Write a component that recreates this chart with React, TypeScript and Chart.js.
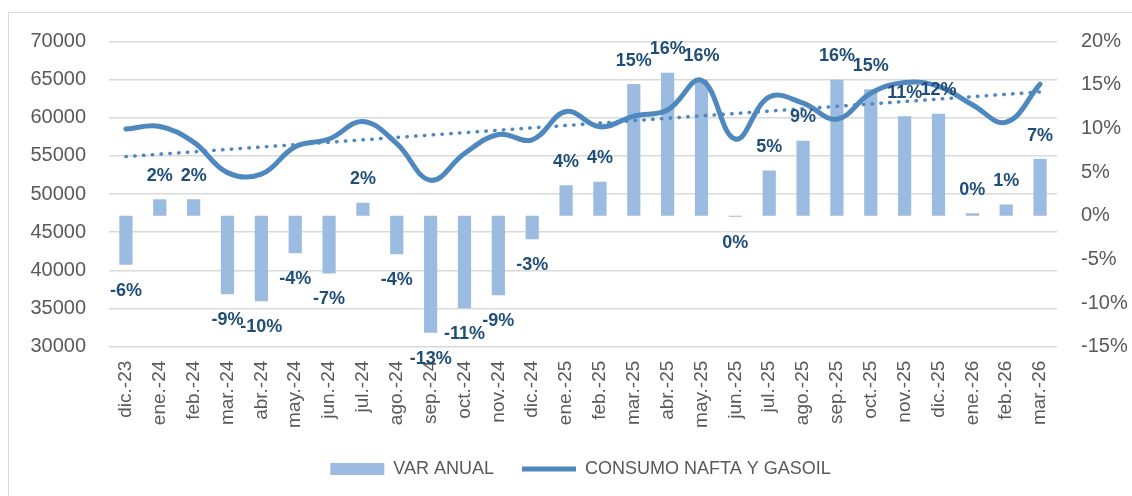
import React, { useEffect, useRef } from "react";
import { Chart, registerables } from "chart.js";

Chart.register(...registerables);

const categories = [
  "dic.-23", "ene.-24", "feb.-24", "mar.-24", "abr.-24", "may.-24", "jun.-24",
  "jul.-24", "ago.-24", "sep.-24", "oct.-24", "nov.-24", "dic.-24", "ene.-25",
  "feb.-25", "mar.-25", "abr.-25", "may.-25", "jun.-25", "jul.-25", "ago.-25",
  "sep.-25", "oct.-25", "nov.-25", "dic.-25", "ene.-26", "feb.-26", "mar.-26",
];

// VAR ANUAL (%), right axis
const varAnual = [
  -5.6, 1.9, 1.9, -9.0, -9.8, -4.3, -6.6, 1.5, -4.4, -13.4, -10.6, -9.1, -2.7, 3.5,
  3.9, 15.1, 16.4, 15.6, -0.1, 5.2, 8.6, 15.6, 14.5, 11.4, 11.7, 0.3, 1.3, 6.5,
];

// CONSUMO NAFTA Y GASOIL, left axis
const consumo = [
  58500, 58850, 56800, 52800, 52600, 56200, 57200, 59500, 56600, 51800, 55300, 57800,
  57100, 60800, 58800, 60200, 61000, 64900, 57200, 62700, 61900, 59800, 63200, 64600,
  64100, 61700, 59400, 64400,
];

const leftMin = 30000;
const leftMax = 70000;
const leftStep = 5000;
const rightMin = -15;
const rightMax = 20;
const rightStep = 5;

const seriesNames = ["VAR ANUAL", "CONSUMO NAFTA Y GASOIL", "Lineal (CONSUMO NAFTA Y GASOIL)"];

// Linear trendline (least squares) of the consumo series, as Excel draws it
function linearTrend(values: number[]): number[] {
  const n = values.length;
  let sx = 0, sy = 0, sxy = 0, sxx = 0;
  values.forEach((v, i) => {
    sx += i; sy += v; sxy += i * v; sxx += i * i;
  });
  const slope = (n * sxy - sx * sy) / (n * sxx - sx * sx);
  const intercept = (sy - slope * sx) / n;
  return values.map((_, i) => intercept + slope * i);
}

const FONT = "'Liberation Sans', Arial, sans-serif";
const LINE_COLOR = "#4F87BF";
const BAR_COLOR = "#9BBBE1";
const LABEL_COLOR = "#1F4E79";
const AXIS_COLOR = "#595959";
const GRID_COLOR = "#D9D9D9";

const barLabelPlugin = {
  id: "barLabels",
  afterDatasetsDraw(chart: any) {
    const meta = chart.getDatasetMeta(0);
    const ctx = chart.ctx;
    ctx.save();
    ctx.font = `bold 18px ${FONT}`;
    ctx.fillStyle = LABEL_COLOR;
    ctx.textAlign = "center";
    ctx.textBaseline = "middle";
    meta.data.forEach((el: any, i: number) => {
      const v = varAnual[i];
      const y = v >= 0 ? el.y - 23.5 : el.y + 26;
      ctx.fillText(`${Math.round(v)}%`, el.x, y);
    });
    ctx.restore();
  },
};

export default function App() {
  const canvasRef = useRef<HTMLCanvasElement | null>(null);

  useEffect(() => {
    if (!canvasRef.current) return;
    Chart.defaults.font.family = FONT;
    const trend = linearTrend(consumo);
    const chart = new Chart(canvasRef.current, {
      type: "bar",
      data: {
        labels: categories,
        datasets: [
          {
            type: "bar",
            label: seriesNames[0],
            data: varAnual,
            yAxisID: "y1",
            backgroundColor: BAR_COLOR,
            borderWidth: 0,
            barPercentage: 0.39,
            categoryPercentage: 1,
            pointStyle: "rect",
            order: 3,
          } as any,
          {
            type: "line",
            label: seriesNames[1],
            data: consumo,
            yAxisID: "y",
            borderColor: LINE_COLOR,
            backgroundColor: LINE_COLOR,
            borderWidth: 5,
            borderCapStyle: "round",
            borderJoinStyle: "round",
            pointRadius: 0,
            pointHoverRadius: 0,
            pointStyle: "line",
            tension: 0.4,
            order: 1,
          } as any,
          {
            type: "line",
            label: seriesNames[2],
            data: trend,
            yAxisID: "y",
            borderColor: LINE_COLOR,
            borderWidth: 3.5,
            borderDash: [0.5, 8.3],
            borderCapStyle: "round",
            pointRadius: 0,
            pointHoverRadius: 0,
            tension: 0,
            order: 2,
          } as any,
        ],
      },
      options: {
        responsive: false,
        animation: false,
        devicePixelRatio: 1,
        layout: { padding: { top: 28.3, left: 20, right: 0, bottom: 8 } },
        plugins: {
          tooltip: { enabled: false },
          legend: {
            position: "bottom",
            labels: {
              usePointStyle: true,
              pointStyleWidth: 54,
              boxHeight: 12,
              padding: 28,
              color: AXIS_COLOR,
              font: { size: 18, family: FONT },
              filter: (item: any) => item.datasetIndex !== 2,
              sort: (a: any, b: any) => a.datasetIndex - b.datasetIndex,
            },
          },
        },
        scales: {
          x: {
            offset: true,
            grid: { display: false },
            border: { display: false },
            ticks: {
              minRotation: 90,
              maxRotation: 90,
              autoSkip: false,
              padding: 6,
              color: AXIS_COLOR,
              font: { size: 19, family: FONT },
            },
            afterFit: (s: any) => {
              s.height = 85.3;
            },
          },
          y: {
            position: "left",
            min: leftMin,
            max: leftMax,
            grid: { color: GRID_COLOR, lineWidth: 1.5, drawTicks: false },
            border: { display: false },
            ticks: {
              stepSize: leftStep,
              padding: 23,
              color: AXIS_COLOR,
              font: { size: 20, family: FONT, lineHeight: 0.5 },
              callback: (v: any) => String(v),
            },
            afterFit: (s: any) => {
              s.width = 80;
            },
          },
          y1: {
            position: "right",
            min: rightMin,
            max: rightMax,
            grid: { display: false, drawOnChartArea: false },
            border: { display: false },
            ticks: {
              stepSize: rightStep,
              padding: 16,
              color: AXIS_COLOR,
              font: { size: 20, family: FONT, lineHeight: 0.5 },
              callback: (v: any) => `${v}%`,
            },
            afterFit: (s: any) => {
              s.width = 75;
            },
          },
        },
      } as any,
      plugins: [barLabelPlugin],
    });
    return () => chart.destroy();
  }, []);

  return (
    <div
      style={{
        position: "absolute",
        left: 8,
        top: 12,
        width: 1124,
        height: 484,
        overflow: "hidden",
      }}
    >
      <div
        style={{
          width: 1130,
          height: 490,
          border: "1px solid #D9D9D9",
          boxSizing: "border-box",
          background: "#fff",
        }}
      >
        <canvas ref={canvasRef} width={1123} height={483} style={{ display: "block" }} />
      </div>
    </div>
  );
}
